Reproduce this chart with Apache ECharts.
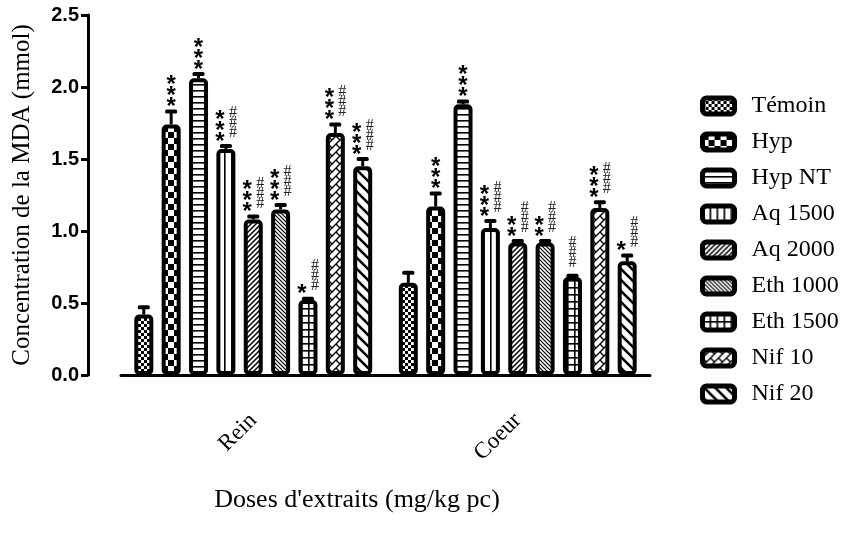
<!DOCTYPE html>
<html>
<head>
<meta charset="utf-8">
<script src="https://cdn.jsdelivr.net/npm/echarts@6/dist/echarts.min.js"></script>
<style>html,body{margin:0;padding:0;background:#fff}#c{width:852px;height:541px}</style>
</head>
<body>
<div id="c"></div>
<script>
const categories = ['Rein', 'Coeur'];
const groups = ['Témoin', 'Hyp', 'Hyp NT', 'Aq 1500', 'Aq 2000', 'Eth 1000', 'Eth 1500', 'Nif 10', 'Nif 20'];
const reinMeans   = [0.42, 1.74, 2.06, 1.57, 1.08, 1.15, 0.52, 1.68, 1.45];
const reinErrors  = [0.05, 0.09, 0.03, 0.02, 0.02, 0.03, 0.01, 0.06, 0.05];
const coeurMeans  = [0.64, 1.17, 1.88, 1.02, 0.92, 0.92, 0.68, 1.16, 0.79];
const coeurErrors = [0.07, 0.09, 0.02, 0.05, 0.01, 0.01, 0.01, 0.04, 0.04];
const reinStars   = [0, 3, 3, 3, 3, 3, 1, 3, 3];
const reinHashes  = [0, 0, 0, 3, 3, 3, 3, 3, 3];
const coeurStars  = [0, 3, 3, 3, 2, 2, 0, 3, 1];
const coeurHashes = [0, 0, 0, 3, 3, 3, 3, 3, 3];
const yTicks = ['0.0', '0.5', '1.0', '1.5', '2.0', '2.5'];

const BAR_W = 19, GAP = 0.44;

function tile(w, h, draw) {
  const c = document.createElement('canvas');
  c.width = w; c.height = h;
  const x = c.getContext('2d');
  x.fillStyle = '#fff'; x.fillRect(0, 0, w, h);
  x.fillStyle = '#000'; x.strokeStyle = '#000';
  draw(x, w, h);
  return { image: c, repeat: 'repeat' };
}
function checker(s) { return tile(2*s, 2*s, x => { x.fillRect(0,0,s,s); x.fillRect(s,s,s,s); }); }
function hlines(s, lw) { return tile(4, s, x => x.fillRect(0, 0, 4, lw)); }
function vlines(s, lw) { return tile(s, 4, x => x.fillRect(0, 0, lw, 4)); }
function grid(s, lw) { return tile(s, s, x => { x.fillRect(0,0,s,lw); x.fillRect(0,0,lw,s); }); }
function slash(s, lw) { return tile(s, s, x => { x.lineWidth = lw; x.beginPath();
  x.moveTo(-1,1); x.lineTo(1,-1); x.moveTo(0,s); x.lineTo(s,0); x.moveTo(s-1,s+1); x.lineTo(s+1,s-1); x.stroke(); }); }
function back(s, lw) { return tile(s, s, x => { x.lineWidth = lw; x.beginPath();
  x.moveTo(0,0); x.lineTo(s,s); x.moveTo(-1,s-1); x.lineTo(1,s+1); x.moveTo(s-1,-1); x.lineTo(s+1,1); x.stroke(); }); }
function zig(s, lw) { return tile(s, s, x => { x.lineWidth = lw; x.beginPath();
  x.moveTo(-1,1); x.lineTo(1,-1); x.moveTo(0,s); x.lineTo(s,0); x.moveTo(s-1,s+1); x.lineTo(s+1,s-1);
  x.moveTo(0,0); x.lineTo(s/2,s/2); x.stroke(); }); }

const patterns = [checker(3), checker(6), hlines(6, 1.6), vlines(7, 1.6), slash(5, 1.5), back(4, 1.2), grid(7, 1.6), zig(8, 1.4), back(11, 2.6)];

const barSeries = groups.map((g, i) => ({
  type: 'bar', name: g, data: [reinMeans[i], coeurMeans[i]],
  barWidth: BAR_W, barGap: (GAP*100) + '%',
  itemStyle: { color: patterns[i], borderColor: '#000', borderWidth: 4, borderRadius: 3 },
  z: 2
}));

const errData = [];
[[reinMeans, reinErrors, reinStars, reinHashes], [coeurMeans, coeurErrors, coeurStars, coeurHashes]].forEach((arr, c) => {
  groups.forEach((g, s) => errData.push([c, s, arr[0][s], arr[1][s], arr[2][s], arr[3][s]]));
});

function renderErr(params, api) {
  const cat = api.value(0), si = api.value(1), mean = api.value(2), err = api.value(3);
  const stars = api.value(4), hashes = api.value(5);
  const base = api.coord([cat, mean]);
  const top = api.coord([cat, mean + err]);
  const spacing = BAR_W * (1 + GAP);
  const cx = base[0] + (si - (groups.length - 1) / 2) * spacing;
  const children = [
    { type: 'line', shape: { x1: cx, y1: base[1], x2: cx, y2: top[1] }, style: { stroke: '#000', lineWidth: 3 } },
    { type: 'rect', shape: { x: cx - 6, y: top[1] - 2, width: 12, height: 4, r: 1.5 }, style: { fill: '#000' } }
  ];
  for (let i = 0; i < stars; i++) {
    children.push({ type: 'text', style: { text: '*', x: hashes ? cx - 6 : cx, y: top[1] - 4 - i * 11,
      font: 'bold 24px "Liberation Sans"', fill: '#000', align: 'center', verticalAlign: 'middle' } });
  }
  for (let j = 0; j < hashes; j++) {
    children.push({ type: 'text', style: { text: '#', x: stars ? cx + 7 : cx, y: top[1] - 13 - j * 10,
      font: '16px "Liberation Serif"', fill: '#222', align: 'center', verticalAlign: 'middle' } });
  }
  return { type: 'group', children };
}

const chart = echarts.init(document.getElementById('c'), null, { renderer: 'canvas' });
chart.setOption({
  animation: false,
  grid: { left: 121, right: 202, top: 15, bottom: 166, outerBoundsMode: 'none', containLabel: false },
  legend: {
    orient: 'vertical', left: 695, top: 89, data: groups,
    icon: 'roundRect', itemWidth: 32, itemHeight: 16, itemGap: 12,
    itemStyle: { borderColor: '#000', borderWidth: 5 },
    textStyle: { fontFamily: 'Liberation Serif', fontSize: 24, color: '#000', padding: [0, 0, 0, 12], lineHeight: 16 }
  },
  xAxis: {
    type: 'category', data: categories, offset: 32,
    axisLine: { lineStyle: { color: '#000', width: 3 } },
    axisTick: { alignWithLabel: true, length: 8, lineStyle: { color: '#000', width: 3 } },
    axisLabel: { rotate: 45, fontFamily: 'Liberation Serif', fontSize: 23, color: '#000', margin: 10 },
    name: "Doses d'extraits (mg/kg pc)", nameLocation: 'middle', nameGap: 80,
    nameTextStyle: { fontFamily: 'Liberation Serif', fontSize: 26, color: '#000', padding: [0, 57, 0, 0] }
  },
  yAxis: {
    type: 'value', min: 0, max: 2.5, interval: 0.5, offset: 33,
    axisLine: { show: true, lineStyle: { color: '#000', width: 3 } },
    axisTick: { show: true, length: 7, lineStyle: { color: '#000', width: 3 } },
    splitLine: { show: false },
    axisLabel: { formatter: v => yTicks[Math.round(v / 0.5)], fontFamily: 'Liberation Sans', fontWeight: 'bold', fontSize: 20, color: '#000', margin: 9 },
    name: 'Concentration de la MDA (mmol)', nameLocation: 'middle', nameGap: 53,
    nameTextStyle: { fontFamily: 'Liberation Serif', fontSize: 25, color: '#000' }
  },
  series: barSeries.concat([{
    type: 'custom', name: 'err', data: errData, renderItem: renderErr,
    encode: { x: 0, y: 2 }, z: 5, silent: true
  }])
});
</script>
</body>
</html>
